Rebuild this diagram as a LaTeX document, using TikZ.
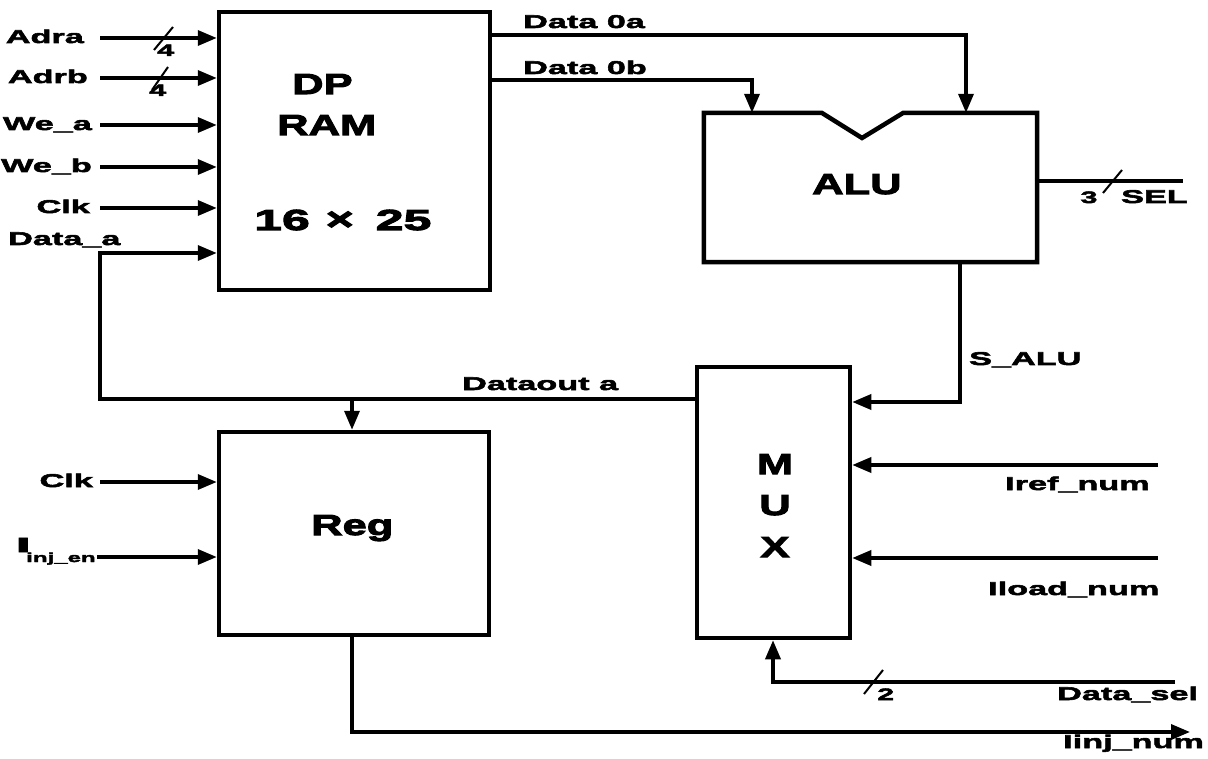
\documentclass[tikz,border=0pt]{standalone}
\usepackage{fontspec}
\newfontfamily\smfont{Liberation Sans Bold}[FakeStretch=1.85,FakeBold=3]
\newfontfamily\bigfont{Liberation Sans Bold}[FakeStretch=1.5,FakeBold=3.5]
\usetikzlibrary{arrows.meta}
\begin{document}
\begin{tikzpicture}[x=1pt,y=-1pt,
  blk/.style={draw, line width=4.5pt, inner sep=0pt},
  boxline/.style={line width=4.5pt, line join=miter},
  wire/.style={line width=3.5pt},
  arr/.style={wire, -{Triangle[length=19pt,width=15pt]}},
  slash/.style={line width=2pt},
  lbl/.style={inner sep=0pt, font=\smfont\fontsize{18.5}{21}\selectfont},
  dig/.style={inner sep=0pt, font=\smfont\fontsize{16.5}{18}\selectfont},
  big/.style={inner sep=0pt, font=\bigfont\fontsize{29}{33}\selectfont}]
\useasboundingbox[fill=white] (0,0) rectangle (1208,759);

% blocks
\node[blk, minimum width=271pt, minimum height=278pt] (ram) at (354.5,151) {};
\node[inner sep=0pt, minimum width=333pt, minimum height=149pt] (alu) at (870.5,187.5) {};
\draw[boxline] (alu.north west) -- (822,113) -- (862,138) -- (903,113) -- (alu.north east) -- (alu.south east) -- (alu.south west) -- cycle;
\node[blk, minimum width=153pt, minimum height=271pt] (mux) at (773.5,502.5) {};
\node[blk, minimum width=270pt, minimum height=203pt] (reg) at (354,533.5) {};

% block texts
\node[big, anchor=base west] (tdp) at (292,94) {DP};
\node[big, anchor=base west] (tram) at (277,135) {RAM};
\node[big, anchor=base west] (tsize) at (254,230) {\scalebox{1.15}[1]{16}\hspace{16pt}\scalebox{1.1}[1.1]{×}\hspace{22pt}\scalebox{1.15}[1]{25}};
\node[big, anchor=base west] (talu) at (812,194) {ALU};
\node[big, anchor=base west] (treg) at (311,535) {Reg};
\node[big, anchor=base] (tm) at (775,474) {M};
\node[big, anchor=base] (tu) at (775,515) {U};
\node[big, anchor=base] (tx) at (775,557) {X};

% RAM inputs
\coordinate (adra) at (100,38);
\coordinate (adrb) at (100,78);
\coordinate (wea) at (100,125);
\coordinate (web) at (100,167);
\coordinate (clka) at (100,208);
\draw[arr] (adra) -- (adra -| ram.west);
\draw[arr] (adrb) -- (adrb -| ram.west);
\draw[arr] (wea) -- (wea -| ram.west);
\draw[arr] (web) -- (web -| ram.west);
\draw[arr] (clka) -- (clka -| ram.west);
\node[lbl, anchor=base east] (ladra) at (84,43) {Adra};
\node[lbl, anchor=base east] (ladrb) at (88,83) {Adrb};
\node[lbl, anchor=base east] (lwea) at (92,130) {We\_a};
\node[lbl, anchor=base east] (lweb) at (92,172) {We\_b};
\node[lbl, anchor=base east] (lclka) at (90,213) {Clk};
\node[lbl, anchor=base west] (ldataa) at (8,245) {Data\_a};
\draw[slash] (154,50) -- (173,27);
\node[dig, anchor=base west] (n4a) at (157,56) {4};
\draw[slash] (152,90) -- (168,67);
\node[dig, anchor=base west] (n4b) at (149,96) {4};

% feedback Dataout a
\coordinate (dout) at (mux.west |- 0,399);
\draw[arr] (dout) -- (100,399) -- (100,253) -- (ram.west |- 0,253);
\draw[arr] (352,399) -- (reg.north -| 352,0);
\node[lbl, anchor=base west] (ldout) at (462,390) {Dataout a};

% RAM outputs to ALU
\draw[arr] (ram.east |- 0,35) -- (966,35) -- (alu.north -| 966,0);
\draw[arr] (ram.east |- 0,80) -- (752,80) -- (alu.north -| 752,0);
\node[lbl, anchor=base west] (ld0a) at (523,28) {Data 0a};
\node[lbl, anchor=base west] (ld0b) at (523,74) {Data 0b};

% SEL
\coordinate (selend) at (1183,181);
\draw[wire] (alu.east |- selend) -- (selend);
\draw[slash] (1103,193) -- (1122,170);
\node[dig, anchor=base] (n3) at (1089,203) {3};
\node[lbl, anchor=base west] (lsel) at (1121,203) {SEL};

% ALU to MUX
\draw[arr] (alu.south -| 960,0) -- (960,402) -- (mux.east |- 0,402);
\node[lbl, anchor=base west] (lsalu) at (969,365) {S\_ALU};

% MUX inputs
\coordinate (iref) at (1158,465);
\coordinate (iload) at (1158,558);
\draw[arr] (iref) -- (iref -| mux.east);
\draw[arr] (iload) -- (iload -| mux.east);
\node[lbl, anchor=base west] (liref) at (1005,490) {Iref\_num};
\node[lbl, anchor=base west] (liload) at (988,595) {Iload\_num};

\coordinate (dsel) at (1175,682);
\draw[arr] (dsel) -- (773,682) -- (mux.south -| 773,0);
\draw[slash] (864,694) -- (883,670);
\node[dig, anchor=base west] (n2) at (877,700) {2};
\node[lbl, anchor=base west] (ldsel) at (1057,700) {Data\_sel};

% Reg inputs
\coordinate (clkb) at (100,482);
\coordinate (inj) at (97,557);
\draw[arr] (clkb) -- (clkb -| reg.west);
\draw[arr] (inj) -- (inj -| reg.west);
\node[lbl, anchor=base east] (lclkb) at (93,487) {Clk};
\node[lbl, anchor=base west] (linj) at (15,552) {\scalebox{1.7}[1.1]{I}};
\node[dig, anchor=base west, font=\smfont\fontsize{13}{15}\selectfont] (linjsub) at (26,562) {inj\_en};

% Reg output
\coordinate (iinj) at (1190,732);
\draw[arr] (reg.south -| 352,0) -- (352,732) -- (iinj);
\node[lbl, anchor=base west] (liinj) at (1063,748) {Iinj\_num};
\end{tikzpicture}
\end{document}
